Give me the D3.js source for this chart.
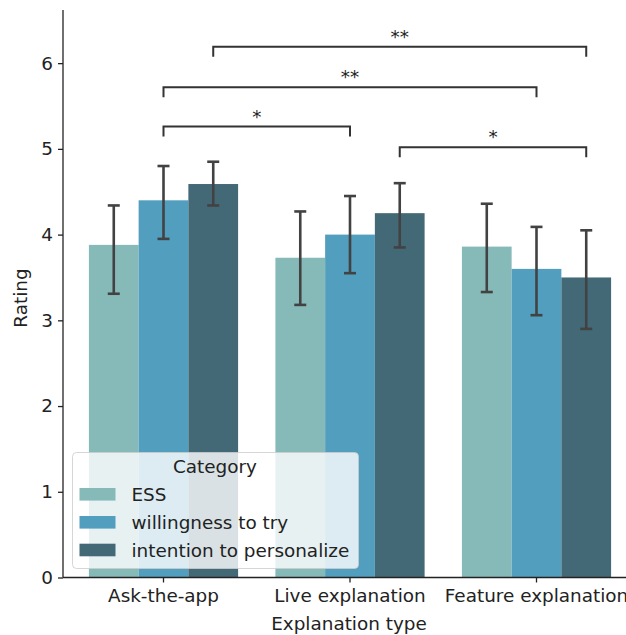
<!DOCTYPE html>
<html><head><meta charset="utf-8">
<script src="https://cdn.jsdelivr.net/npm/d3@7"></script>
<style>html,body{margin:0;padding:0;background:#fff;overflow:hidden}svg{display:block}</style>
</head><body><svg id="c" width="626" height="635"></svg>
<script>
const categories = ["Ask-the-app", "Live explanation", "Feature explanation"];
const series = ["ESS", "willingness to try", "intention to personalize"];
const colors = ["#86BAB9", "#519EBE", "#436977"];
const means = {
  "ESS": [3.88, 3.73, 3.86],
  "willingness to try": [4.40, 4.00, 3.60],
  "intention to personalize": [4.59, 4.25, 3.50]
};
const errLow = {
  "ESS": [3.31, 3.18, 3.33],
  "willingness to try": [3.95, 3.55, 3.06],
  "intention to personalize": [4.34, 3.85, 2.90]
};
const errHigh = {
  "ESS": [4.34, 4.27, 4.36],
  "willingness to try": [4.80, 4.45, 4.09],
  "intention to personalize": [4.85, 4.60, 4.05]
};
const yTicks = [0, 1, 2, 3, 4, 5, 6];
// significance brackets: [catA, seriesA, catB, seriesB, level, label]
const brackets = [
  [0, 2, 2, 2, 6.19, "**"],
  [0, 1, 2, 1, 5.72, "**"],
  [0, 1, 1, 1, 5.26, "*"],
  [1, 2, 2, 2, 5.02, "*"]
];

const svg = d3.select("#c");
const font = "DejaVu Sans, sans-serif";
const fs = 18.4;
const axisX = 63, plotTop = 10, plotBottom = 577.5;
const y = d3.scaleLinear().domain([0, 6.62]).range([plotBottom, plotTop]);
const x = d3.scaleBand().domain(categories).range([70.25, 629.75]).paddingInner(0.2).paddingOuter(0.1);
const xs = d3.scaleBand().domain(series).range([0, x.bandwidth()]);

// bars
series.forEach((s, si) => {
  svg.append("g").selectAll("rect").data(categories).join("rect")
    .attr("x", c => x(c) + xs(s))
    .attr("width", xs.bandwidth())
    .attr("y", (c, i) => y(means[s][i]))
    .attr("height", (c, i) => y(0) - y(means[s][i]))
    .attr("fill", colors[si]);
});
// error bars
const eg = svg.append("g").attr("stroke", "#424242").attr("stroke-width", 2.6).attr("fill", "none");
series.forEach((s) => {
  categories.forEach((c, i) => {
    const cx = x(c) + xs(s) + xs.bandwidth() / 2;
    const lo = y(errLow[s][i]), hi = y(errHigh[s][i]);
    eg.append("line").attr("x1", cx).attr("x2", cx).attr("y1", lo).attr("y2", hi);
    eg.append("line").attr("x1", cx - 6).attr("x2", cx + 6).attr("y1", lo).attr("y2", lo);
    eg.append("line").attr("x1", cx - 6).attr("x2", cx + 6).attr("y1", hi).attr("y2", hi);
  });
});
// brackets
const bg = svg.append("g");
brackets.forEach(b => {
  const x1 = x(categories[b[0]]) + xs(series[b[1]]) + xs.bandwidth() / 2;
  const x2 = x(categories[b[2]]) + xs(series[b[3]]) + xs.bandwidth() / 2;
  const yy = y(b[4]);
  bg.append("path").attr("d", `M${x1},${yy + 10}V${yy}H${x2}V${yy + 10}`)
    .attr("fill", "none").attr("stroke", "#333").attr("stroke-width", 2);
  bg.append("text").attr("x", (x1 + x2) / 2).attr("y", yy - 4)
    .attr("text-anchor", "middle").attr("font-family", font).attr("font-size", fs)
    .attr("fill", "#222").text(b[5]);
});

// axes
const yAxis = d3.axisLeft(y).tickValues(yTicks).tickFormat(d3.format("d")).tickSize(5).tickPadding(5);
const ga = svg.append("g").attr("transform", `translate(${axisX},0)`).call(yAxis);
ga.select(".domain").attr("d", `M0,${plotTop}V${plotBottom}`).attr("stroke", "#222").attr("stroke-width", 1.3);
ga.selectAll(".tick line").attr("stroke", "#222").attr("stroke-width", 1.3);
ga.selectAll(".tick text").attr("font-family", font).attr("font-size", fs).attr("fill", "#222");

const xAxis = d3.axisBottom(x).tickSize(5).tickPadding(6);
const gx = svg.append("g").attr("transform", `translate(0,${plotBottom})`).call(xAxis);
gx.select(".domain").attr("d", `M${axisX},0H640`).attr("stroke", "#222").attr("stroke-width", 1.3);
gx.selectAll(".tick line").attr("stroke", "#222").attr("stroke-width", 1.3);
gx.selectAll(".tick text").attr("font-family", font).attr("font-size", fs).attr("fill", "#222");

svg.append("text").attr("x", 349).attr("y", 630).attr("text-anchor", "middle")
  .attr("font-family", font).attr("font-size", fs).attr("fill", "#222").text("Explanation type");
svg.append("text").attr("transform", "translate(27,298) rotate(-90)").attr("text-anchor", "middle")
  .attr("font-family", font).attr("font-size", fs).attr("fill", "#222").text("Rating");

// legend
const lg = svg.append("g");
lg.append("rect").attr("x", 72.5).attr("y", 452.5).attr("width", 286).attr("height", 116).attr("rx", 4)
  .attr("fill", "#fff").attr("fill-opacity", 0.8).attr("stroke", "#ccc").attr("stroke-opacity", 0.8);
lg.append("text").attr("x", 215).attr("y", 473).attr("text-anchor", "middle")
  .attr("font-family", font).attr("font-size", fs).attr("fill", "#222").text("Category");
const lcy = [494.3, 522.3, 550];
series.forEach((s, i) => {
  lg.append("rect").attr("x", 79.5).attr("y", lcy[i] - 6.3).attr("width", 36).attr("height", 12.6).attr("fill", colors[i]);
  lg.append("text").attr("x", 131.5).attr("y", lcy[i] + 6.5)
    .attr("font-family", font).attr("font-size", fs).attr("fill", "#222").text(s);
});
</script></body></html>
